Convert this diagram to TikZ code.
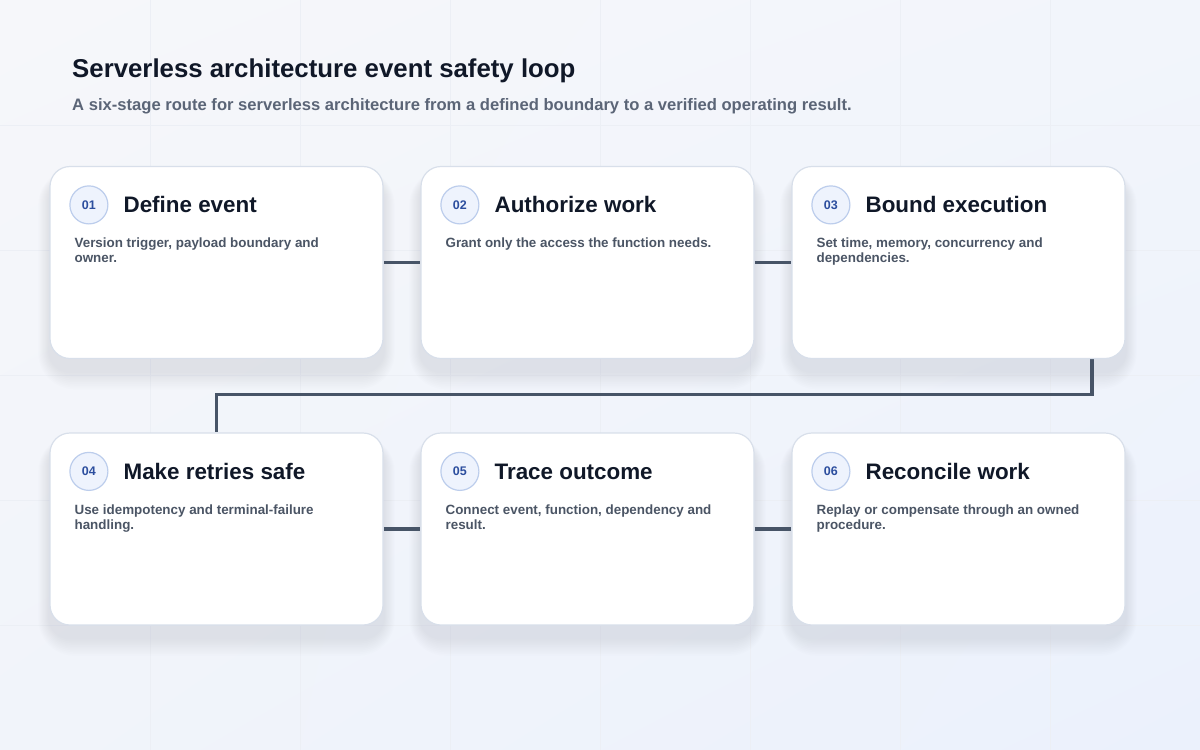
\documentclass[tikz,border=0pt]{standalone}
\usepackage{fontspec}
\setmainfont{Liberation Sans}
\usetikzlibrary{calc,shadings}
\definecolor{bgA}{HTML}{F6F7FA}
\definecolor{bgB}{HTML}{F2F5FB}
\definecolor{bgC}{HTML}{F1F4FA}
\definecolor{bgD}{HTML}{EBF1FC}
\definecolor{gridc}{HTML}{ECEFF5}
\definecolor{cardborder}{HTML}{D8DFEA}
\definecolor{shadowc}{HTML}{7F8DAA}
\definecolor{connc}{HTML}{475467}
\definecolor{titlec}{HTML}{101828}
\definecolor{subc}{HTML}{5B6577}
\definecolor{descc}{HTML}{4B5565}
\definecolor{badgefill}{HTML}{EEF3FD}
\definecolor{badgeline}{HTML}{BCCDEC}
\definecolor{badgetext}{HTML}{2C4E9E}
\pgfdeclarelayer{bglayer}
\pgfdeclarelayer{shadowlayer}
\pgfdeclarelayer{edgelayer}
\pgfsetlayers{bglayer,shadowlayer,edgelayer,main}
\tikzset{
  cardbox/.style={draw=cardborder, line width=1.2pt, fill=white, rounded corners=20pt,
    minimum width=333pt, minimum height=192pt, inner sep=0pt},
  badge/.style={circle, draw=badgeline, line width=1.2pt, fill=badgefill, minimum size=38pt,
    inner sep=0pt, text=badgetext, font=\fontsize{12.5}{14}\selectfont\bfseries},
  cardtitle/.style={anchor=base west, inner sep=0pt, text=titlec, font=\fontsize{22.4}{26}\selectfont\bfseries},
  carddesc/.style={anchor=north west, inner sep=0pt, text=descc, align=left,
    font=\fontsize{13.4}{15}\selectfont\bfseries},
  conn/.style={draw=connc, line width=3.8pt},
}
\newcommand\stagecard[6]{%
  \node[cardbox] (#1) at (#2,#3) {};
  \node[badge] (#1b) at ([xshift=39.5pt,yshift=-39pt]#1.north west) {#4};
  \node[cardtitle] (#1t) at ([xshift=74pt,yshift=-47pt]#1.north west) {#5};
  \node[carddesc] (#1d) at ([xshift=25pt,yshift=-71pt]#1.north west) {\strut #6};
  \begin{pgfonlayer}{shadowlayer}
    \foreach \i in {1,...,10} {
      \fill[shadowc, opacity=0.017, rounded corners={20pt+1.6*\i pt}]
        ([xshift=-1.1*\i pt, yshift={-12pt+0.9*\i pt}]#1.north west) rectangle
        ([xshift=1.1*\i pt, yshift={-12pt-1.8*\i pt}]#1.south east);
    }
  \end{pgfonlayer}
}
\begin{document}
\begin{tikzpicture}[x=1pt,y=-1pt]
\useasboundingbox (0,0) rectangle (1200,750);
\begin{pgfonlayer}{bglayer}
  \shade[upper left=bgA, upper right=bgB, lower left=bgC, lower right=bgD] (0,0) rectangle (1200,750);
  \foreach \gx in {150,300,...,1050} \draw[gridc, line width=0.7pt] (\gx,0) -- (\gx,750);
  \foreach \gy in {125,250,...,625} \draw[gridc, line width=0.7pt] (0,\gy) -- (1200,\gy);
\end{pgfonlayer}

\node[anchor=base west, inner sep=0pt, text=titlec, font=\fontsize{25.8}{30}\selectfont\bfseries] (title) at (72,77) {Serverless architecture event safety loop};
\node[anchor=base west, inner sep=0pt, text=subc, font=\fontsize{16.6}{19}\selectfont\bfseries] (subtitle) at (72,110) {A six-stage route for serverless architecture from a defined boundary to a verified operating result.};

\stagecard{c1}{216.5}{262.5}{01}{Define event}{Version trigger, payload boundary and\\owner.}
\stagecard{c2}{587.5}{262.5}{02}{Authorize work}{Grant only the access the function needs.}
\stagecard{c3}{958.5}{262.5}{03}{Bound execution}{Set time, memory, concurrency and\\dependencies.}
\stagecard{c4}{216.5}{529}{04}{Make retries safe}{Use idempotency and terminal-failure\\handling.}
\stagecard{c5}{587.5}{529}{05}{Trace outcome}{Connect event, function, dependency and\\result.}
\stagecard{c6}{958.5}{529}{06}{Reconcile work}{Replay or compensate through an owned\\procedure.}

\begin{pgfonlayer}{edgelayer}
  \draw[conn] (c1.east) -- (c2.west);
  \draw[conn] (c2.east) -- (c3.west);
  \draw[conn] ([xshift=-34pt]c3.south east) |- ([yshift=38pt]c4.north) -- (c4.north);
  \draw[conn] (c4.east) -- (c5.west);
  \draw[conn] (c5.east) -- (c6.west);
\end{pgfonlayer}
\end{tikzpicture}
\end{document}
